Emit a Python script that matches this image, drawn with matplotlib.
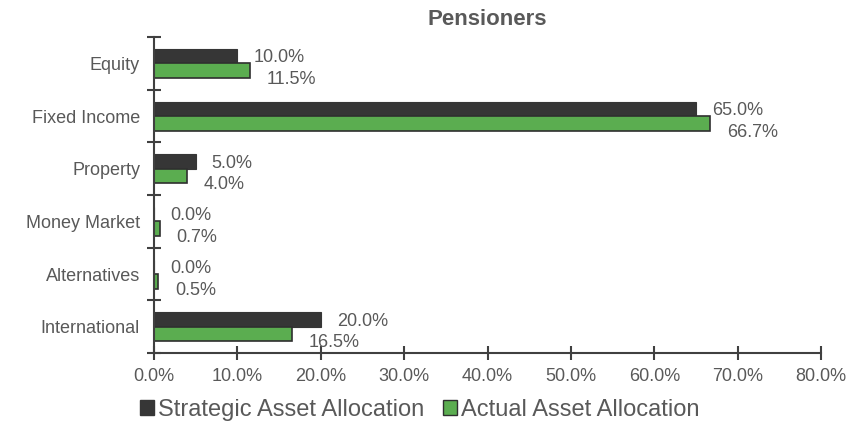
import numpy as np
import matplotlib
matplotlib.use("Agg")
import matplotlib.pyplot as plt
from matplotlib.ticker import FuncFormatter

plt.rcParams["font.family"] = ["Liberation Sans", "DejaVu Sans"]

categories = ["Equity", "Fixed Income", "Property", "Money Market", "Alternatives", "International"]
strategic = [10.0, 65.0, 5.0, 0.0, 0.0, 20.0]
actual = [11.5, 66.7, 4.0, 0.7, 0.5, 16.5]

DARK = "#363636"
GREEN = "#5bad50"
GREY = "#595959"

fig = plt.figure(figsize=(8.6, 4.37), dpi=100)
ax = fig.add_axes([0.179, 0.192, 0.776, 0.723])

n = len(categories)
y = np.arange(n)
h = 0.275
ax.barh(y - h / 2, strategic, height=h, color=DARK, edgecolor=DARK, lw=0.8)
ax.barh(y + h / 2, actual, height=h, color=GREEN, edgecolor="#2f2f2f", lw=1.2)

for i in range(n):
    ax.text(strategic[i] + 1.9, y[i] - h / 2 + 0.03, f"{strategic[i]:.1f}%",
            va="center", ha="left", fontsize=13, color=GREY)
    ax.text(actual[i] + 2.0, y[i] + h / 2 + 0.17, f"{actual[i]:.1f}%",
            va="center", ha="left", fontsize=13, color=GREY)

ax.set_ylim(n - 0.5, -0.5)
ax.set_xlim(0, 80)
ax.set_xticks(np.arange(0, 81, 10))
ax.xaxis.set_major_formatter(FuncFormatter(lambda v, p: f"{v:.1f}%"))
ax.set_yticks(y)
ax.set_yticklabels(categories)
ax.set_yticks(np.arange(-0.5, n, 1.0), minor=True)
ax.tick_params(axis="y", which="major", length=0, pad=10, labelsize=13, labelcolor=GREY)
ax.tick_params(axis="y", which="minor", length=10, direction="inout", width=1.5, color="#404040")
ax.tick_params(axis="x", length=10, direction="inout", width=1.5, color="#404040",
               labelsize=13, labelcolor=GREY, pad=6)

for s in ["top", "right"]:
    ax.spines[s].set_visible(False)
for s in ["left", "bottom"]:
    ax.spines[s].set_color("#404040")
    ax.spines[s].set_linewidth(1.5)

ax.set_title("Pensioners", fontsize=16, fontweight="bold", color=GREY, pad=9)

handles = [plt.Rectangle((0, 0), 1, 1, facecolor=DARK, edgecolor=DARK),
           plt.Rectangle((0, 0), 1, 1, facecolor=GREEN, edgecolor="#2f2f2f")]
fig.legend(handles, ["Strategic Asset Allocation", "Actual Asset Allocation"],
           loc="center", bbox_to_anchor=(0.488, 0.062), ncol=2, frameon=False,
           fontsize=17, labelcolor=GREY, handlelength=0.6, handleheight=0.6,
           handletextpad=0.15, columnspacing=0.8)

fig.savefig("out.png", dpi=100)
